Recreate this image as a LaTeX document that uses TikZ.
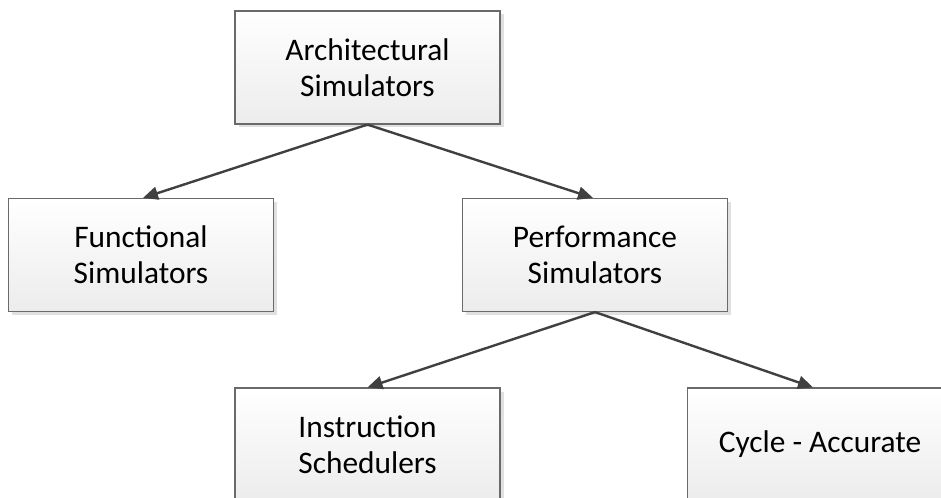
\documentclass[tikz,border=0pt]{standalone}
\usepackage{fontspec}
\setmainfont{Carlito}
\usetikzlibrary{arrows.meta,shadows}
\definecolor{edgegray}{HTML}{6A6A6A}
\definecolor{linkgray}{HTML}{404040}
\definecolor{fillbottom}{HTML}{ECECEC}
\tikzset{
  simbox/.style={
    rectangle, draw=edgegray, line width=1.2bp,
    top color=white, bottom color=fillbottom,
    minimum width=265bp, minimum height=113bp, inner sep=0pt,
    align=center, font=\fontsize{31.5}{36.5}\selectfont,
    drop shadow={shadow xshift=3.5bp, shadow yshift=-3.5bp,
                 fill=black!12, opacity=1}
  },
  link/.style={
    draw=linkgray, line width=2.4bp,
    -{Triangle[length=15bp,width=13bp]}
  }
}
\begin{document}
\begin{tikzpicture}[x=1bp,y=-1bp]
  \useasboundingbox (0,0) rectangle (941,498);
  \clip (0,0) rectangle (941,498);

  \node[simbox] (arch) at (367.5,67.5) {Architectural\\Simulators};
  \node[simbox] (func) at (141,255)    {Functional\\Simulators};
  \node[simbox] (perf) at (595,255)    {Performance\\Simulators};
  \node[simbox] (inst) at (367.5,444.5){Instruction\\Schedulers};
  \node[simbox] (cycl) at (820,444.5)  {Cycle - Accurate};

  \draw[link] (arch.south) -- ([xshift=2bp]func.north);
  \draw[link] (arch.south) -- ([xshift=-2bp]perf.north);
  \draw[link] (perf.south) -- (inst.north);
  \draw[link] (perf.south) -- ([xshift=-7bp]cycl.north);
\end{tikzpicture}
\end{document}
